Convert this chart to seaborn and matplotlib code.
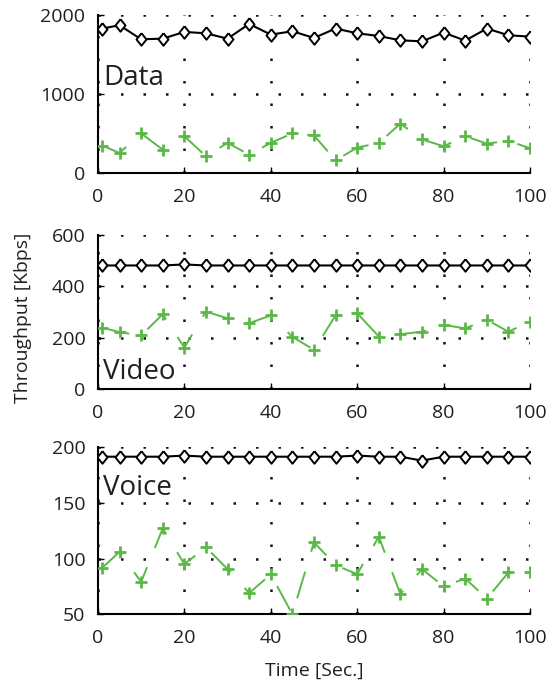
import numpy as np
import pandas as pd
import seaborn as sns
import matplotlib.pyplot as plt

time = [1, 5, 10, 15, 20, 25, 30, 35, 40, 45, 50, 55, 60, 65, 70, 75, 80, 85, 90, 95, 100]

data_total = [1830, 1872, 1694, 1702, 1787, 1770, 1702, 1889, 1753, 1796, 1711,
              1830, 1770, 1736, 1681, 1668, 1779, 1677, 1830, 1745, 1728]
data_flow = [349, 255, 502, 298, 468, 213, 383, 234, 383, 502, 477,
             162, 323, 383, 626, 426, 340, 468, 374, 409, 315]

video_total = [481, 481, 481, 481, 485, 481, 481, 481, 481, 481, 481,
               481, 481, 481, 481, 481, 481, 481, 481, 481, 481]
video_flow = [239, 221, 208, 291, 161, 301, 275, 256, 286, 203, 152,
              286, 295, 204, 213, 223, 249, 236, 269, 223, 262]

voice_total = [191.5, 191.5, 191.5, 191.5, 192.5, 191.5, 191.5, 191.5, 191.5, 191.5, 191.5,
               191.5, 192.5, 191.5, 191.5, 188, 191.5, 191.5, 191.5, 191.5, 191.5]
voice_flow = [91.7, 106, 79, 127, 95, 110, 90.5, 69, 85.7, 50, 114.6,
              94, 86, 119.6, 68, 90.5, 75, 82, 64, 87.5, 87.5]

panels = ["Data", "Video", "Voice"]
ylims = [(0, 2000), (0, 600), (50, 200)]
yticks = [[0, 1000, 2000], [0, 200, 400, 600], [50, 100, 150, 200]]
label_pos = [0.60, 0.11, 0.755]

sns.set_theme(style="white")
plt.rcParams['font.family'] = ['Open Sans', 'DejaVu Sans']

green = '#5ab946'
txt = '#231f20'
diamond = [(0, 1), (0.8, 0), (0, -1), (-0.8, 0), (0, 1)]

fig = plt.figure(figsize=(5.47, 6.87), dpi=100)
boxes = [[0.179, 0.748, 0.790, 0.230],
         [0.179, 0.434, 0.790, 0.224],
         [0.179, 0.106, 0.790, 0.243]]
series = [(data_total, data_flow), (video_total, video_flow), (voice_total, voice_flow)]

for i, name in enumerate(panels):
    ax = fig.add_axes(boxes[i])
    tot, flow = series[i]
    df = pd.DataFrame({'t': time, 'total': tot, 'flow': flow})
    lw = 1.4
    sns.lineplot(data=df, x='t', y='total', ax=ax, color='black', lw=1.5,
                 marker=diamond, ms=9, mfc='white', mec='black', mew=1.4, zorder=3)
    sns.lineplot(data=df, x='t', y='flow', ax=ax, color=green, lw=lw,
                 linestyle=(0, (20 / lw, 15 / lw)),
                 marker='+', ms=8, mec=green, mew=2, zorder=3)
    ax.set_xlim(0, 100)
    ax.set_ylim(*ylims[i])
    ax.set_xticks([0, 20, 40, 60, 80, 100])
    ax.set_yticks(yticks[i])
    ax.grid(True, color='#111111', linestyle=(0, (1, 8)), lw=1.8)
    for s in ['top', 'right']:
        ax.spines[s].set_visible(False)
    for s in ['left', 'bottom']:
        ax.spines[s].set_color('black')
        ax.spines[s].set_linewidth(1.5)
    ax.tick_params(direction='in', length=4, width=1, colors='black',
                   labelcolor=txt, labelsize=14, bottom=True, left=True)
    ax.tick_params(axis='x', pad=11)
    ax.tick_params(axis='y', pad=9)
    ax.set_xlabel('')
    ax.set_ylabel('')
    ax.text(0.012, label_pos[i], name, transform=ax.transAxes, fontsize=20,
            color=txt, ha='left', va='center')

fig.text(0.575, 0.024, 'Time [Sec.]', fontsize=14, color=txt, ha='center', va='center')
fig.text(0.042, 0.537, 'Throughput [Kbps]', rotation=90, fontsize=14,
         color=txt, ha='center', va='center')

fig.savefig('out.png', dpi=100)
